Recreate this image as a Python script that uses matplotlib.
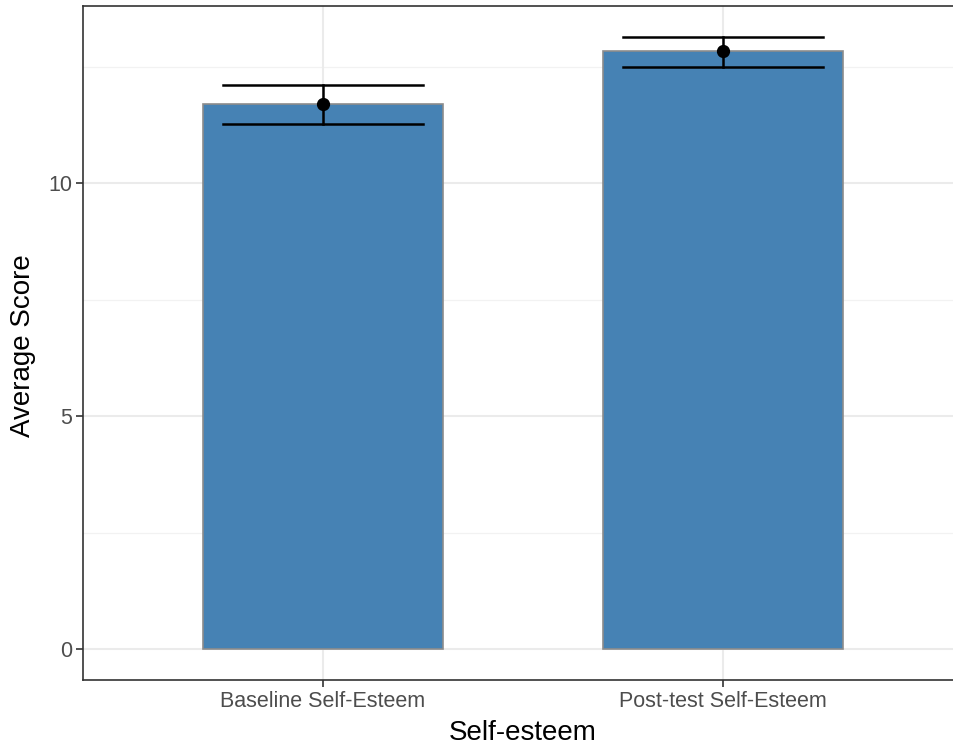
import numpy as np
import matplotlib.pyplot as plt

# values
categories = ["Baseline Self-Esteem", "Post-test Self-Esteem"]
means = [11.70, 12.85]
upper = [12.12, 13.15]
lower = [11.28, 12.51]

plt.rcParams['font.family'] = ['Liberation Sans', 'DejaVu Sans']

fig = plt.figure(figsize=(9.54, 7.47), dpi=100)
W, H = 954, 747
ax = fig.add_axes([83 / W, 1 - 680 / H, (963 - 83) / W, (680 - 6) / H])

x = np.arange(1, len(categories) + 1)

# grid (theme_bw style)
for yv in [2.5, 7.5, 12.5]:
    ax.axhline(yv, color='#F2F2F2', lw=0.9, zorder=0)
for yv in [0, 5, 10]:
    ax.axhline(yv, color='#EBEBEB', lw=1.5, zorder=0)
for xv in x:
    ax.axvline(xv, color='#EBEBEB', lw=1.5, zorder=0)

ax.bar(x, means, width=0.6, color='#4682B4', edgecolor='#8C8C8C', linewidth=1.2, zorder=2)

# error bars with wide caps
for xi, m, lo, hi in zip(x, means, lower, upper):
    ax.plot([xi, xi], [lo, hi], color='black', lw=1.8, zorder=3)
    ax.plot([xi - 0.25, xi + 0.25], [hi, hi], color='black', lw=1.8, zorder=3)
    ax.plot([xi - 0.25, xi + 0.25], [lo, lo], color='black', lw=1.8, zorder=3)
ax.plot(x, means, 'o', color='black', markersize=8.5, zorder=4)

ax.set_xlim(0.4, 2.6)
ax.set_ylim(-0.66, 13.81)
ax.set_xticks(x)
ax.set_xticklabels(categories)
ax.set_yticks([0, 5, 10])
ax.tick_params(axis='both', colors='#333333', labelcolor='#4D4D4D', labelsize=15.5, length=5, width=1.2, pad=3)
for s in ax.spines.values():
    s.set_color('#333333')
    s.set_linewidth(1.2)

fig.text(523 / W, 1 - 733 / H, "Self-esteem", fontsize=20, color='black', ha='center', va='center')
fig.text(23 / W, 1 - 346 / H, "Average Score", fontsize=20, color='black', ha='center', va='center', rotation=90)

fig.savefig("out.png", dpi=100)
